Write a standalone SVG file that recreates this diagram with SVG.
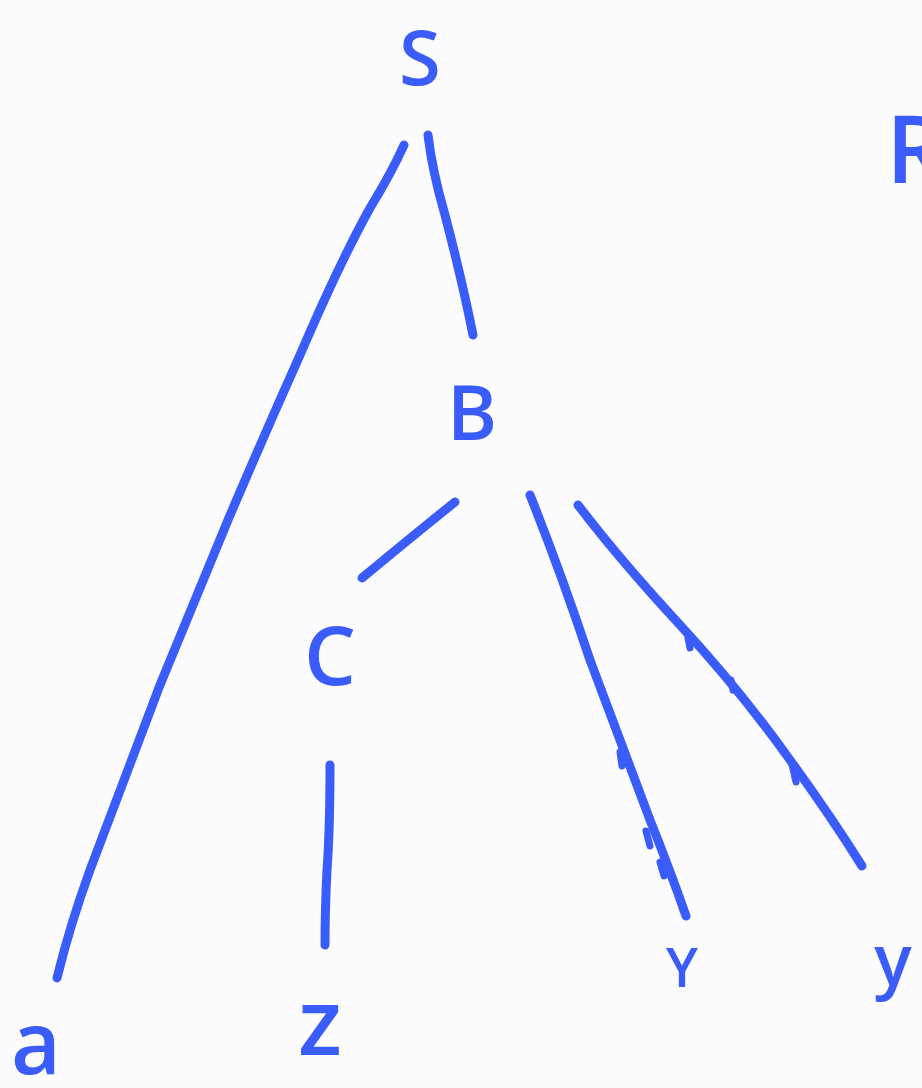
<svg xmlns="http://www.w3.org/2000/svg" width="922" height="1088" viewBox="0 0 922 1088">
<style>
.lbl{font-family:"Open Sans","Liberation Sans",sans-serif;font-weight:600;fill:#3a5cfb;text-anchor:middle}
.edge{fill:none;stroke:#3a5cfb;stroke-width:9;stroke-linecap:round;stroke-linejoin:round}
.mark{fill:none;stroke:#3a5cfb;stroke-width:7;stroke-linecap:round}
</style>
<rect width="922" height="1088" fill="#fcfcfe"/>
<g id="connectors">
<path class="edge" d="M404,145 Q392,172 370,208 Q340,262 300,355 Q262,440 228,520 Q195,600 160,685 Q120,790 90,870 Q70,925 57,978"/>
<path class="edge" d="M428,135 Q432,170 445,215 Q462,280 473,335"/>
<path class="edge" d="M455,502 Q420,530 362,578"/>
<path class="edge" d="M330,765 Q330,830 327,870 Q325,910 325,945"/>
<path class="edge" d="M530,495 Q560,570 590,660 Q620,740 650,820 Q670,870 686,916"/>
<path class="edge" d="M578,505 Q620,560 680,625 Q740,690 790,760 Q830,815 862,866"/>
<path class="mark" d="M620,752 L622,766"/>
<path class="mark" d="M646,831 L650,846"/>
<path class="mark" d="M660,862 L664,876"/>
<path class="mark" d="M688,638 L690,648"/>
<path class="mark" d="M731,680 L733,690"/>
<path class="mark" d="M791,760 L796,782"/>
</g>
<g id="node-S"><text class="lbl" x="420" y="85" font-size="76">S</text></g>
<g id="node-R"><text class="lbl" x="916" y="183" font-size="94">R</text></g>
<g id="node-B"><text class="lbl" x="472" y="440" font-size="76">B</text></g>
<g id="node-C"><text class="lbl" x="330" y="685" font-size="82">C</text></g>
<g id="node-a"><text class="lbl" x="36" y="1074" font-size="86">a</text></g>
<g id="node-z"><text class="lbl" x="320" y="1055" font-size="92">z</text></g>
<g id="node-Y"><text class="lbl" x="682" y="987" font-size="54">Y</text></g>
<g id="node-y"><text class="lbl" x="893" y="985" font-size="70">y</text></g>
</svg>
